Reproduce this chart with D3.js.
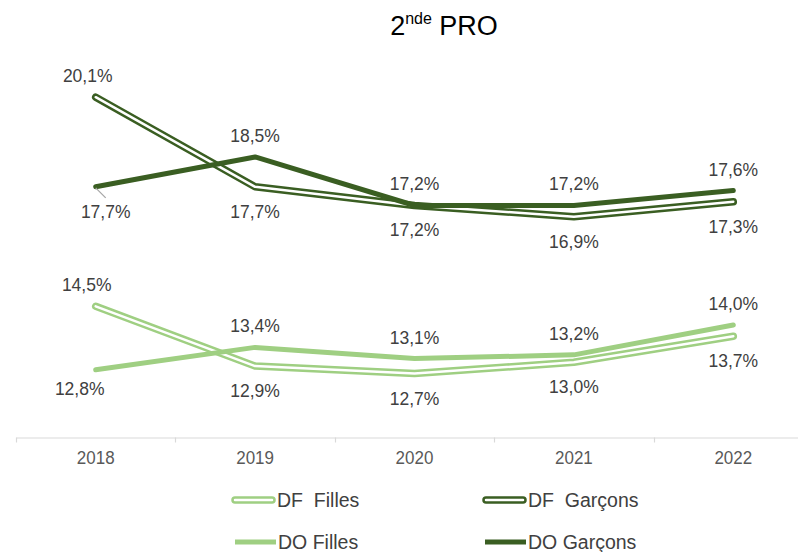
<!DOCTYPE html>
<html>
<head>
<meta charset="utf-8">
<script src="https://cdn.jsdelivr.net/npm/d3@7"></script>
<style>
  html, body { margin: 0; padding: 0; background: #fff; }
  svg { display: block; font-family: "Liberation Sans", Arial, sans-serif; }
</style>
</head>
<body>
<svg id="chart" width="798" height="552"></svg>
<script>
// ---- Data ----
const years = ["2018", "2019", "2020", "2021", "2022"];
const dfFilles  = [14.5, 12.9, 12.7, 13.0, 13.7];
const dfGarcons = [20.1, 17.7, 17.2, 16.9, 17.3];
const doFilles  = [12.8, 13.4, 13.1, 13.2, 14.0];
const doGarcons = [17.7, 18.5, 17.2, 17.2, 17.6];
const seriesNames = ["DF  Filles", "DF  Garçons", "DO Filles", "DO Garçons"];

// ---- Styles ----
const LIGHT = "#9fcf82";
const DARK = "#3a5e22";
const series = [
  { name: seriesNames[0], values: dfFilles,  color: LIGHT, kind: "double", firstAbove: true },
  { name: seriesNames[1], values: dfGarcons, color: DARK,  kind: "double", firstAbove: true },
  { name: seriesNames[2], values: doFilles,  color: LIGHT, kind: "solid",  firstAbove: false },
  { name: seriesNames[3], values: doGarcons, color: DARK,  kind: "solid",  firstAbove: false }
];

const svg = d3.select("#chart");

const x = d3.scaleBand().domain(years).range([16, 813]).paddingInner(0).paddingOuter(0);
const y = d3.scaleLinear().domain([11, 21]).range([437, 63.6]);
const cx = yr => x(yr) + x.bandwidth() / 2;

// ---- Title ----
const title = svg.append("text")
  .attr("x", 444).attr("y", 35)
  .attr("text-anchor", "middle")
  .attr("fill", "#000")
  .style("font-size", "27px");
title.append("tspan").text("2");
title.append("tspan").attr("dy", -11).style("font-size", "16px").text("nde");
title.append("tspan").attr("dy", 11).text(" PRO");

// ---- Axis ----
const axisY = Math.round(y(11)) + 0.5;
const xAxis = d3.axisBottom(x).tickSize(0).tickPadding(0).tickFormat(d => d);
const gAxis = svg.append("g").attr("transform", `translate(0,${axisY})`).call(xAxis);
gAxis.select(".domain").attr("stroke", "#d9d9d9").attr("stroke-width", 1.2);
gAxis.selectAll(".tick text")
  .attr("y", 0)
  .attr("dy", 0)
  .attr("transform", "translate(0,26) scale(1,1.12)")
  .attr("fill", "#595959")
  .style("font-size", "17px")
  .style("font-family", "'Liberation Sans', Arial, sans-serif");
// boundary ticks
const bounds = years.map(yr => x(yr)).concat([x(years[years.length - 1]) + x.bandwidth()]);
gAxis.selectAll("line.bound").data(bounds).enter().append("line")
  .attr("class", "bound")
  .attr("x1", d => Math.round(d) + 0.5).attr("x2", d => Math.round(d) + 0.5)
  .attr("y1", 0).attr("y2", 5)
  .attr("stroke", "#d9d9d9").attr("stroke-width", 1.2);

// ---- Lines ----
const line = d3.line().x((d, i) => cx(years[i])).y(d => y(d));
const gLines = svg.append("g");
series.forEach(s => {
  if (s.kind === "double") {
    gLines.append("path").attr("d", line(s.values))
      .attr("fill", "none").attr("stroke", s.color).attr("stroke-width", 7.5)
      .attr("stroke-linejoin", "round").attr("stroke-linecap", "round");
    gLines.append("path").attr("d", line(s.values))
      .attr("fill", "none").attr("stroke", "#fff").attr("stroke-width", 2.5)
      .attr("stroke-linejoin", "round").attr("stroke-linecap", "round");
  } else {
    gLines.append("path").attr("d", line(s.values))
      .attr("fill", "none").attr("stroke", s.color).attr("stroke-width", 5)
      .attr("stroke-linejoin", "round").attr("stroke-linecap", "round");
  }
});

// ---- Data labels ----
const fmt = v => d3.format(".1f")(v).replace(".", ",") + "%";
// per-label manual nudges (Excel-like custom placement), keyed "seriesIndex-pointIndex"
const nudges = { "0-0": [-9, 0], "1-0": [-8, 0], "2-0": [-16, -6], "3-0": [10, 0] };
const gLabels = svg.append("g");
series.forEach((s, si) => {
  s.values.forEach((v, i) => {
    const above = (i === 0) ? s.firstAbove : !s.firstAbove;
    const n = nudges[si + "-" + i] || [0, 0];
    gLabels.append("text")
      .attr("x", cx(years[i]) + n[0])
      .attr("y", y(v) + (above ? -15 : 31) + n[1])
      .attr("text-anchor", "middle")
      .attr("fill", "#404040")
      .style("font-size", "17.5px")
      .text(fmt(v));
  });
});
// leader line for the DO Garçons 2018 label
gLabels.append("line")
  .attr("x1", cx(years[0])).attr("y1", y(doGarcons[0]) + 1)
  .attr("x2", cx(years[0]) + 10).attr("y2", y(doGarcons[0]) + 11)
  .attr("stroke", "#a6a6a6").attr("stroke-width", 1.2);

// ---- Legend ----
const legendPos = [
  { sx: 232, row: 500 }, { sx: 483, row: 500 },
  { sx: 233, row: 542 }, { sx: 483, row: 542 }
];
const gLeg = svg.append("g");
series.forEach((s, i) => {
  const p = legendPos[i];
  const len = 43;
  if (s.kind === "double") {
    gLeg.append("line").attr("x1", p.sx + 3).attr("x2", p.sx + len - 3).attr("y1", p.row).attr("y2", p.row)
      .attr("stroke", s.color).attr("stroke-width", 7.5).attr("stroke-linecap", "round");
    gLeg.append("line").attr("x1", p.sx + 3).attr("x2", p.sx + len - 3).attr("y1", p.row).attr("y2", p.row)
      .attr("stroke", "#fff").attr("stroke-width", 2.5).attr("stroke-linecap", "round");
  } else {
    gLeg.append("line").attr("x1", p.sx + 2).attr("x2", p.sx + len).attr("y1", p.row).attr("y2", p.row)
      .attr("stroke", s.color).attr("stroke-width", 5);
  }
  gLeg.append("text")
    .attr("x", p.sx + len + 2).attr("y", p.row + 7)
    .attr("fill", "#404040")
    .style("font-size", "19.5px")
    .style("white-space", "pre")
    .attr("xml:space", "preserve")
    .text(s.name);
});
</script>
</body>
</html>
